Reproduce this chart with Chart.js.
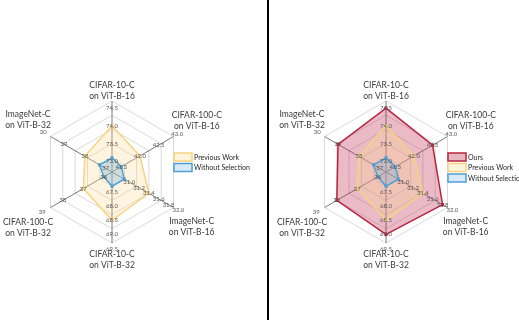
<!DOCTYPE html>
<html>
<head>
<meta charset="utf-8">
<script src="https://cdn.jsdelivr.net/npm/chart.js@4/dist/chart.umd.min.js"></script>
<style>
  html, body { margin: 0; padding: 0; background: #fff; }
  body { width: 519px; height: 320px; position: relative; overflow: hidden; }
  #left { position: absolute; left: 0; top: 0; }
  #right { position: absolute; left: 269px; top: 0; }
  #divider { position: absolute; left: 267px; top: 0; width: 2px; height: 320px; background: #000; }
</style>
</head>
<body>
<canvas id="left" width="267" height="320"></canvas>
<div id="divider"></div>
<canvas id="right" width="250" height="320"></canvas>
<script>
// Benchmarks, clockwise from the top spoke
const benchmarks = [
  ['CIFAR-10-C', 'on ViT-B-16'],
  ['CIFAR-100-C', 'on ViT-B-16'],
  ['ImageNet-C', 'on ViT-B-16'],
  ['CIFAR-10-C', 'on ViT-B-32'],
  ['CIFAR-100-C', 'on ViT-B-32'],
  ['ImageNet-C', 'on ViT-B-32']
];

// Accuracy (%) on each benchmark
const ours = [74.5, 42.5, 31.8, 69.0, 38.0, 39.0];
const previousWork = [74.0, 42.0, 31.4, 68.5, 37.0, 38.0];
const withoutSelection = [73.1, 41.5, 30.9, 67.3, 36.0, 37.3];

// Every spoke has its own range: value at the centre and at the outer ring
const axisMin = [72.7, 41.25, 30.65, 66.8, 35.6, 36.7];
const axisMax = [74.7, 42.9, 31.9, 69.3, 38.6, 39.65];

// Tick values along each spoke and the text printed for them
const tickValues = [
  [73.0, 73.5, 74.0, 74.5],
  [41.5, 42.0, 42.5, 43.0],
  [31.0, 31.2, 31.4, 31.6, 31.8, 32.0],
  [67.5, 68.0, 68.5, 69.0, 69.5],
  [36, 37, 38, 39],
  [37, 38, 39, 40]
];
const tickText = [
  ['73.0', '73.5', '74.0', '74.5'],
  ['41.5', '42.0', '42.5', '43.0'],
  ['31.0', '31.2', '31.4', '31.6', '31.8', '32.0'],
  ['67.5', '68.0', '68.5', '69.0', '69.5'],
  ['36', '37', '38', '39'],
  ['37', '38', '39', '30']
];

// Map a value on spoke i onto the shared 0..1 radial scale
const toUnit = (v, i) => (v - axisMin[i]) / (axisMax[i] - axisMin[i]);
const normalise = arr => arr.map(toUnit);

const FONT = 'Lato, "Open Sans", sans-serif';

// Benchmark names and spoke ticks, drawn around the radial scale
const spokeText = {
  id: 'spokeText',
  afterDatasetsDraw(chart) {
    const s = chart.scales.r;
    const ctx = chart.ctx;
    ctx.save();
    ctx.textAlign = 'center';
    ctx.textBaseline = 'middle';

    ctx.font = '6px ' + FONT;
    ctx.fillStyle = '#595959';
    tickValues.forEach((vals, i) => {
      vals.forEach((v, k) => {
        const p = s.getPointPosition(i, s.getDistanceFromCenterForValue(toUnit(v, i)));
        ctx.fillText(tickText[i][k], p.x, p.y);
      });
    });

    const dist = [81.5, 98, 92, 88, 97, 97];
    const nudge = [0, -2.5, 9, 0, 7, -4];
    ctx.font = '8.5px ' + FONT;
    ctx.fillStyle = '#3a3a3a';
    benchmarks.forEach((lines, i) => {
      const p = s.getPointPosition(i, dist[i]);
      const y = p.y + nudge[i];
      ctx.fillText(lines[0], p.x, y - 5.5);
      ctx.fillText(lines[1], p.x, y + 5.5);
    });
    ctx.restore();
  }
};

// Legend beside the radar, one boxed swatch per dataset
const boxLegend = {
  id: 'boxLegend',
  afterDraw(chart) {
    const s = chart.scales.r;
    const ctx = chart.ctx;
    const x = s.xCenter + 62;
    let y = s.yCenter - 15;
    ctx.save();
    ctx.font = '7px ' + FONT;
    ctx.textAlign = 'left';
    ctx.textBaseline = 'middle';
    chart.data.datasets.forEach(ds => {
      ctx.fillStyle = '#fff';
      ctx.fillRect(x, y - 4, 18, 8);
      ctx.fillStyle = ds.legendFill;
      ctx.fillRect(x, y - 4, 18, 8);
      ctx.strokeStyle = ds.borderColor;
      ctx.lineWidth = 1.5;
      ctx.strokeRect(x, y - 4, 18, 8);
      ctx.fillStyle = '#262626';
      ctx.fillText(ds.label, x + 20, y + 0.5);
      y += 10.5;
    });
    ctx.restore();
  }
};

const RED = '#b8243f', YELLOW = '#f8d27e', BLUE = '#4e9fd6';

function series(label, values, color, fill, legendFill, order) {
  return {
    label, order,
    data: normalise(values),
    borderColor: color,
    backgroundColor: fill,
    legendFill,
    fill: true,
    borderWidth: 1.5,
    pointStyle: 'rect',
    pointRadius: 2.2,
    pointBackgroundColor: color,
    pointBorderColor: color,
    pointBorderWidth: 0
  };
}

function radar(canvasId, datasets, padding) {
  return new Chart(document.getElementById(canvasId), {
    type: 'radar',
    data: { labels: benchmarks.map(b => b.join(' ')), datasets },
    options: {
      responsive: false,
      animation: false,
      layout: { padding },
      plugins: { legend: { display: false }, tooltip: { enabled: false } },
      elements: { line: { tension: 0 } },
      scales: {
        r: {
          min: 0,
          max: 1,
          ticks: { display: false, stepSize: 0.2 },
          grid: { color: '#d9d9d9', lineWidth: 1 },
          angleLines: { color: '#7a7a7a', lineWidth: 1 },
          pointLabels: { display: false }
        }
      }
    },
    plugins: [spokeText, boxLegend]
  });
}

radar('left', [
  series('Previous Work', previousWork, YELLOW, 'rgba(252, 214, 140, 0.28)', 'rgba(252, 214, 140, 0.3)', 1),
  series('Without Selection', withoutSelection, BLUE, 'rgba(100, 170, 222, 0.3)', 'rgba(100, 170, 222, 0.25)', 0)
], { left: 41, top: 101, right: 84, bottom: 77 });

radar('right', [
  series('Ours', ours, RED, 'rgba(190, 45, 80, 0.32)', 'rgba(190, 45, 80, 0.35)', 2),
  series('Previous Work', previousWork, YELLOW, 'rgba(252, 214, 140, 0.28)', 'rgba(252, 214, 140, 0.3)', 1),
  series('Without Selection', withoutSelection, BLUE, 'rgba(100, 170, 222, 0.3)', 'rgba(100, 170, 222, 0.25)', 0)
], { left: 46, top: 101, right: 62, bottom: 77 });
</script>
</body>
</html>
